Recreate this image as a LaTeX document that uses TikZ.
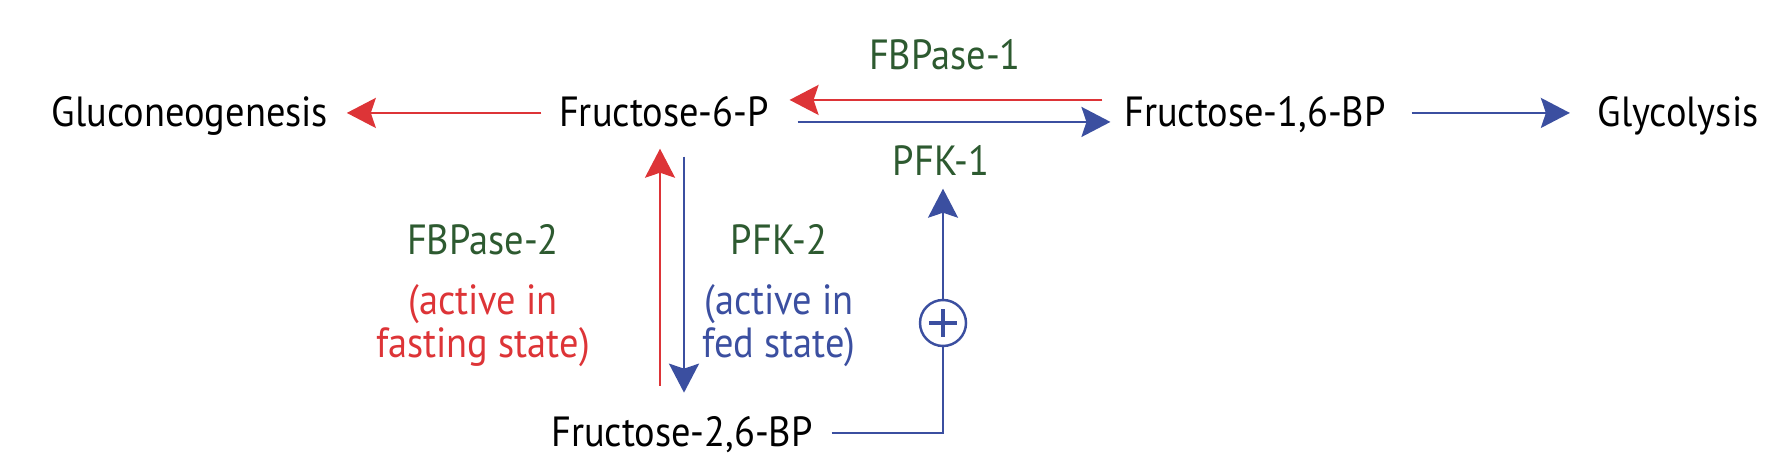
\documentclass[tikz,border=0pt]{standalone}
\usepackage{fontspec}
\setmainfont{PT Sans}[FakeStretch=0.91]
\usetikzlibrary{arrows.meta, positioning}

\definecolor{fastred}{RGB}{221,52,55}
\definecolor{fedblue}{RGB}{59,79,160}
\definecolor{enzgreen}{RGB}{45,90,48}

\tikzset{
  metabolite/.style={inner sep=0pt, font=\fontsize{12}{12.4}\selectfont, text height=9pt, text depth=1pt},
  enzyme/.style={metabolite, text=enzgreen},
  enzlabel/.style={inner sep=0pt, align=center, font=\fontsize{12}{12.4}\selectfont, text=enzgreen},
  redarrow/.style={draw=fastred, line width=0.7pt, -{Stealth[length=2.9mm, width=3mm, inset=0.5mm]}},
  bluearrow/.style={draw=fedblue, line width=0.7pt, -{Stealth[length=2.9mm, width=3mm, inset=0.5mm]}},
  blueline/.style={draw=fedblue, line width=0.7pt},
  activator/.style={circle, draw=fedblue, line width=0.7pt, inner sep=0pt, minimum size=4.6mm}
}

\begin{document}
\begin{tikzpicture}
\useasboundingbox (0,0) rectangle (17.76,4.68);

% Main row of metabolites
\node[metabolite, anchor=base] (gluco) at (1.90,3.41) {Gluconeogenesis};
\node[metabolite, anchor=base] (f6p) at (6.64,3.41) {Fructose-6-P};
\node[metabolite, anchor=base] (f16bp) at (12.55,3.41) {Fructose-1,6-BP};
\node[metabolite, anchor=base] (glyco) at (16.78,3.41) {Glycolysis};

% Regulator below
\node[metabolite, anchor=base] (f26bp) at (6.82,0.21) {Fructose-2,6-BP};

% Enzymes
\node[enzyme, anchor=base] (fbp1) at (9.45,3.98) {FBPase-1};
\node[enzyme, anchor=base] (pfk1) at (9.41,2.92) {PFK-1};
\node[enzlabel, anchor=north] (fbp2) at (4.83,2.44)
  {FBPase-2\\[1.6mm]\color{fastred}(active in\\\color{fastred}fasting state)};
\node[enzlabel, anchor=north] (pfk2) at (7.79,2.44)
  {PFK-2\\[1.6mm]\color{fedblue}(active in\\\color{fedblue}fed state)};

% Allosteric activation
\node[activator] (act) at (9.43,1.45) {};
\draw[fedblue, line width=1.2pt] ([xshift=-1.4mm]act.center) -- ([xshift=1.4mm]act.center);
\draw[fedblue, line width=1.2pt] ([yshift=-1.4mm]act.center) -- ([yshift=1.4mm]act.center);

\coordinate (redx) at (6.60,0);
\coordinate (bluex) at (6.84,0);

% Reactions
\draw[redarrow, shorten <=1.7mm, shorten >=1.8mm] (f6p) -- (gluco);
\draw[redarrow, shorten <=2.1mm, shorten >=2mm] ([yshift=1.3mm]f16bp.west) -- ([yshift=1.3mm]f6p.east);
\draw[bluearrow, shorten <=2.8mm, shorten >=1.3mm] ([yshift=-0.9mm]f6p.east) -- ([yshift=-0.9mm]f16bp.west);
\draw[bluearrow, shorten <=2.5mm, shorten >=2.7mm] (f16bp) -- (glyco);
\draw[redarrow, shorten <=2.9mm, shorten >=1.75mm] (f26bp.north -| redx) -- (f6p.south -| redx);
\draw[bluearrow, shorten <=2.55mm, shorten >=2.2mm] (f6p.south -| bluex) -- (f26bp.north -| bluex);
\draw[blueline, shorten <=1.8mm] (f26bp.east) -| (act.south);
\draw[bluearrow, shorten >=0.85mm] (act.north) -- (pfk1.south -| act.north);
\end{tikzpicture}
\end{document}
